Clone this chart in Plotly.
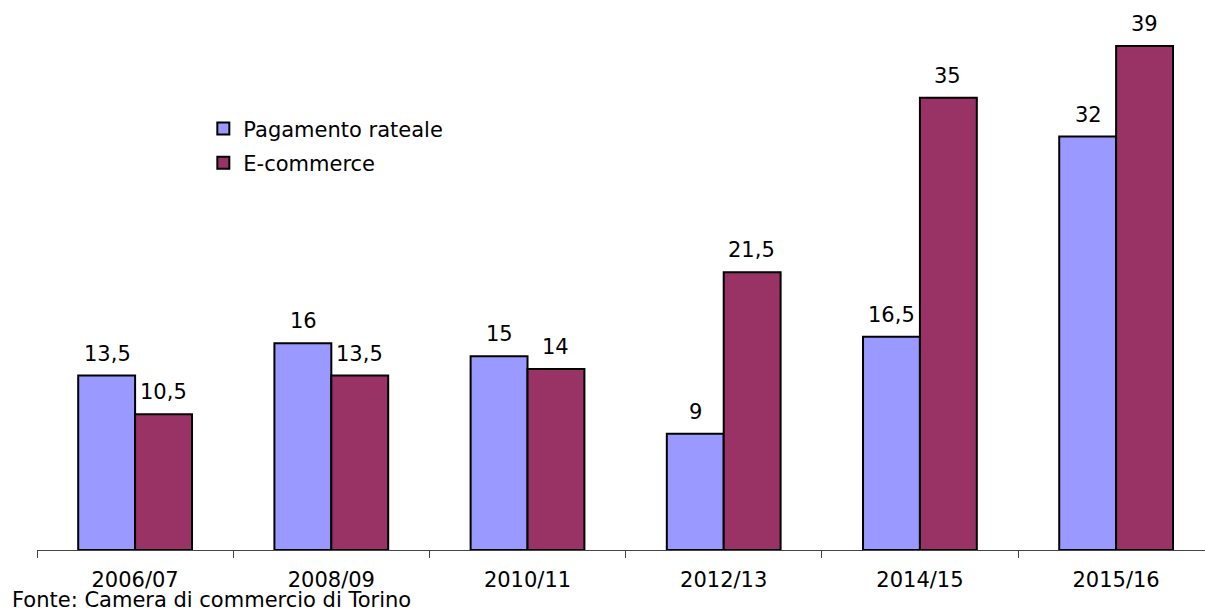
import plotly.graph_objects as go

periodi = ["2006/07", "2008/09", "2010/11", "2012/13", "2014/15", "2015/16"]
pagamento_rateale = [13.5, 16, 15, 9, 16.5, 32]
e_commerce = [10.5, 13.5, 14, 21.5, 35, 39]

FONT = "DejaVu Sans"
FSIZE = 21
BLUE = "#9999FF"
MAROON = "#993366"


def fmt(v):
    s = ("%g" % v)
    return s.replace(".", ",")


fig = go.Figure()
fig.add_trace(go.Bar(name="Pagamento rateale", x=periodi, y=pagamento_rateale,
                     legendgroup="a",
                     marker=dict(color=BLUE, line=dict(color="black", width=2))))
fig.add_trace(go.Bar(name="E-commerce", x=periodi, y=e_commerce,
                     legendgroup="b",
                     marker=dict(color=MAROON, line=dict(color="black", width=2))))

# value labels above each bar
annotations = []
for serie, shift in ((pagamento_rateale, -28), (e_commerce, 28)):
    for p, v in zip(periodi, serie):
        annotations.append(dict(x=p, y=v, xref="x", yref="y", text=fmt(v),
                                showarrow=False, xanchor="center", yanchor="bottom",
                                xshift=shift, yshift=8,
                                font=dict(family=FONT, size=FSIZE, color="black")))

# source note in the bottom-left corner
annotations.append(dict(x=0, y=0, xref="paper", yref="paper",
                        text="Fonte: Camera di commercio di Torino",
                        showarrow=False, xanchor="left", yanchor="bottom",
                        xshift=-26, yshift=-63, borderpad=0,
                        font=dict(family=FONT, size=FSIZE, color="black")))

fig.update_layout(
    width=1205, height=614,
    margin=dict(l=37, r=0, t=0, b=64),
    paper_bgcolor="white", plot_bgcolor="white",
    barmode="group", bargap=0.42, bargroupgap=0,
    font=dict(family=FONT, size=FSIZE, color="black"),
    showlegend=True,
    legend=dict(x=0.1424, y=0.803, xanchor="left", yanchor="top",
                bgcolor="rgba(0,0,0,0)", tracegroupgap=4,
                font=dict(family=FONT, size=FSIZE, color="black"),
                itemwidth=30),
    annotations=annotations,
    xaxis=dict(range=[-0.5, 5.453], showline=True, linecolor="#444", linewidth=1,
               ticks="outside", tickson="boundaries", ticklen=7, tickcolor="#444",
               showgrid=False, zeroline=False, ticklabelstandoff=11,
               tickfont=dict(family=FONT, size=FSIZE, color="black")),
    yaxis=dict(range=[0, 42.57], visible=False, showgrid=False, zeroline=False),
)

fig.write_html("out.html")
